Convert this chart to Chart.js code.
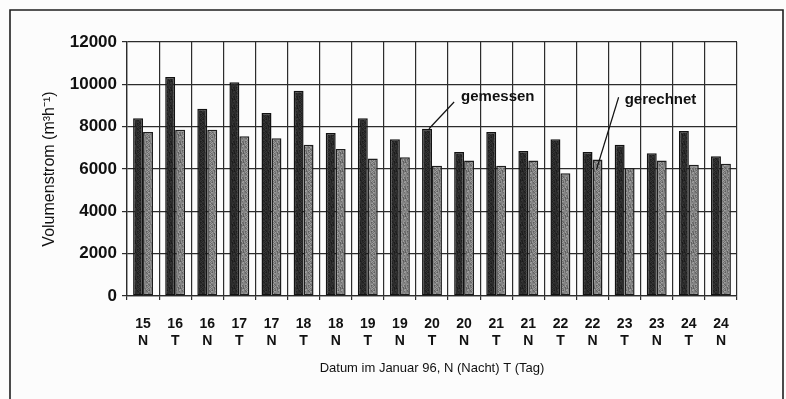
<!DOCTYPE html>
<html>
<head>
<meta charset="utf-8">
<script src="https://cdn.jsdelivr.net/npm/chart.js@4.4.0/dist/chart.umd.min.js"></script>
<style>
  html, body { margin: 0; padding: 0; background: #fcfcfc; }
  #wrap { position: relative; width: 786px; height: 399px; }
  canvas { display: block; }
</style>
</head>
<body>
<div id="wrap"><canvas id="c" width="786" height="399"></canvas></div>
<script>
// Datum (Januar 96) und Zeitraum: N = Nacht, T = Tag
const days    = ['15','16','16','17','17','18','18','19','19','20','20','21','21','22','22','23','23','24','24'];
const periods = ['N','T','N','T','N','T','N','T','N','T','N','T','N','T','N','T','N','T','N'];

// Volumenstrom in m³/h
const gemessen  = [8400,10350,8850,10100,8650,9700,7700,8400,7400,7900,6800,7750,6850,7400,6800,7150,6750,7800,6600];
const gerechnet = [7750,7850,7850,7550,7450,7150,6950,6500,6550,6150,6400,6150,6400,5800,6450,6050,6400,6200,6250];

const yTicks = [0,2000,4000,6000,8000,10000,12000];

const FONT = '"Liberation Sans", Arial, Helvetica, sans-serif';

// speckled grey fill for the bars
function grainPattern(base, spread) {
  const s = 9;
  const cv = document.createElement('canvas');
  cv.width = s; cv.height = s;
  const g = cv.getContext('2d');
  for (let i = 0; i < s; i++) {
    for (let j = 0; j < s; j++) {
      const h = ((i * 73 + j * 151 + i * j * 37) % 17) / 16 - 0.5;
      const v = Math.max(0, Math.min(255, Math.round(base + h * spread)));
      g.fillStyle = `rgb(${v},${v},${v})`;
      g.fillRect(i, j, 1, 1);
    }
  }
  return g.createPattern(cv, 'repeat');
}

const ctx = document.getElementById('c').getContext('2d');

// frame round the whole figure
const framePlugin = {
  id: 'frame',
  afterDraw(chart) {
    const c = chart.ctx;
    c.save();
    c.strokeStyle = '#1e1e1e';
    c.lineWidth = 1.6;
    c.beginPath();
    c.moveTo(10, 402);
    c.lineTo(10, 10);
    c.lineTo(783, 10);
    c.lineTo(783, 402);
    c.stroke();
    c.restore();
  }
};

// leader-line labels for the two series
const notePlugin = {
  id: 'notes',
  afterDatasetsDraw(chart) {
    const c = chart.ctx;
    const x = chart.scales.x, y = chart.scales.y;
    c.save();
    c.font = 'bold 15px ' + FONT;
    c.fillStyle = '#111';
    c.strokeStyle = '#111';
    c.lineWidth = 1.2;
    c.textBaseline = 'middle';
    c.textAlign = 'left';

    const m = chart.getDatasetMeta(0).data[9];
    const mx = x.getPixelForValue(10) - 3, my = y.getPixelForValue(9400);
    c.fillText('gemessen', mx, my);
    c.beginPath();
    c.moveTo(mx - 7, my + 5);
    c.lineTo(m.x + 2, m.y);
    c.stroke();

    const r = chart.getDatasetMeta(1).data[14];
    const rx = x.getPixelForValue(15), ry = y.getPixelForValue(9250);
    c.fillText('gerechnet', rx, ry);
    c.beginPath();
    c.moveTo(rx - 6, ry - 3);
    c.lineTo(r.x - 1, r.y + 10);
    c.stroke();
    c.restore();
  }
};

new Chart(ctx, {
  type: 'bar',
  data: {
    labels: days.map((d, i) => [d, periods[i]]),
    datasets: [
      {
        label: 'gemessen',
        data: gemessen,
        backgroundColor: grainPattern(42, 30),
        borderColor: '#121212',
        borderWidth: 1.5,
        borderSkipped: false,
        categoryPercentage: 0.62,
        barPercentage: 1.0
      },
      {
        label: 'gerechnet',
        data: gerechnet,
        backgroundColor: grainPattern(128, 70),
        borderColor: '#1e1e1e',
        borderWidth: 1.5,
        borderSkipped: false,
        categoryPercentage: 0.62,
        barPercentage: 1.0
      }
    ]
  },
  options: {
    responsive: false,
    animation: false,
    devicePixelRatio: 1,
    layout: { padding: { left: 34, right: 49, top: 42, bottom: 23 } },
    plugins: {
      legend: { display: false },
      tooltip: { enabled: false }
    },
    scales: {
      x: {
        grid: { color: '#2c2c2c', lineWidth: 1.2, tickLength: 4, offset: true },
        border: { color: '#2c2c2c', width: 1.3 },
        ticks: {
          color: '#111',
          padding: 16,
          maxRotation: 0,
          autoSkip: false,
          font: { family: FONT, size: 14, weight: 'bold', lineHeight: 17 / 14 }
        },
        title: {
          display: true,
          text: 'Datum im Januar 96, N (Nacht) T (Tag)',
          color: '#111',
          padding: { top: 0, bottom: 0 },
          font: { family: FONT, size: 13 }
        },
        afterFit(s) { s.height = 80; }
      },
      y: {
        min: 0,
        max: 12000,
        afterBuildTicks(s) { s.ticks = yTicks.map(v => ({ value: v })); },
        grid: { color: '#2c2c2c', lineWidth: 1.2, tickLength: 5 },
        border: { color: '#2c2c2c', width: 1.3 },
        ticks: {
          color: '#111',
          padding: 5,
          font: { family: FONT, size: 17, weight: 'bold' },
          callback: v => String(v)
        },
        title: {
          display: true,
          text: 'Volumenstrom (m³h⁻¹)',
          color: '#111',
          padding: { top: 6, bottom: 0 },
          font: { family: FONT, size: 16 }
        },
        afterFit(s) { s.width = 93; }
      }
    }
  },
  plugins: [framePlugin, notePlugin]
});
</script>
</body>
</html>
